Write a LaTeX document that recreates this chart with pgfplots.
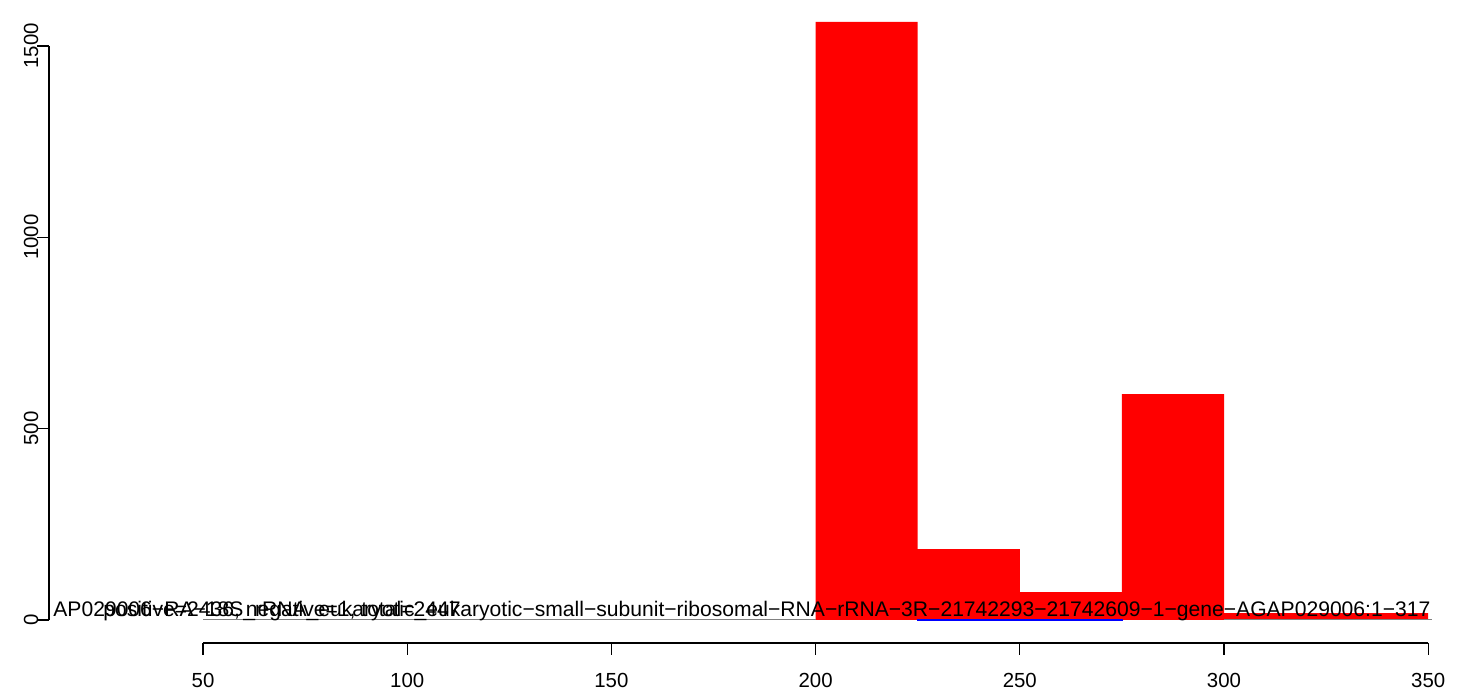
\documentclass[border=0pt]{standalone}
\usepackage{pgfplots}
\pgfplotsset{compat=1.18}
\usepackage{fontspec}
\setmainfont{Liberation Sans}
\begin{document}
\begin{tikzpicture}
\useasboundingbox (0,0) rectangle (729pt,347.5pt);
\begin{axis}[
  at={(0,0)}, anchor=south west,
  width=729pt, height=347.5pt, scale only axis,
  xmin=0.29, xmax=357.3, ymin=-196, ymax=1620.1,
  hide axis, clip=false,
  font=\fontsize{10.2}{12}\selectfont,
]
% red histogram (total)
\addplot[ybar interval, fill=red, draw=none] coordinates {
 (200,1563) (225,185) (250,73) (275,590) (300,18) (325,18) (350,18)};
% blue histogram (negative)
\addplot[ybar interval, fill=blue, draw=blue, line width=0.6pt] coordinates {
 (225,2) (250,2) (275,2)};
% zero-height bins
\addplot[gray, line width=0.5pt] coordinates {(50,0) (200,0)};
\addplot[gray, line width=0.5pt] coordinates {(300,0) (351,0)};
% axes
\draw[line width=0.6pt] (axis cs:12.29,0) -- (axis cs:12.29,1500);
\pgfplotsinvokeforeach{0,500,1000,1500}{
  \draw[line width=0.6pt] (axis cs:12.29,#1) -- (axis cs:9.35,#1);
  \node[rotate=90, anchor=center] at (axis cs:7.9,#1) {#1};
}
\draw[line width=0.6pt] (axis cs:50,-60.1) -- (axis cs:350,-60.1);
\pgfplotsinvokeforeach{50,100,150,200,250,300,350}{
  \draw[line width=0.6pt] (axis cs:#1,-60.1) -- (axis cs:#1,-91.5);
  \node[anchor=center] at (axis cs:#1,-156.8) {#1};
}
% labels
\node[anchor=base west, inner sep=0pt, font=\fontsize{10.55}{12}\selectfont] at (axis cs:13.27,8) {AP029006−RA−18S\_rRNA\_eukaryotic\_eukaryotic−small−subunit−ribosomal−RNA−rRNA−3R−21742293−21742609−1−gene−AGAP029006:1−317};
\node[anchor=base west, inner sep=0pt, font=\fontsize{10.55}{12}\selectfont] at (axis cs:25.5,8) {positive=2436, negative=1, total=2447};
\end{axis}
\end{tikzpicture}
\end{document}
